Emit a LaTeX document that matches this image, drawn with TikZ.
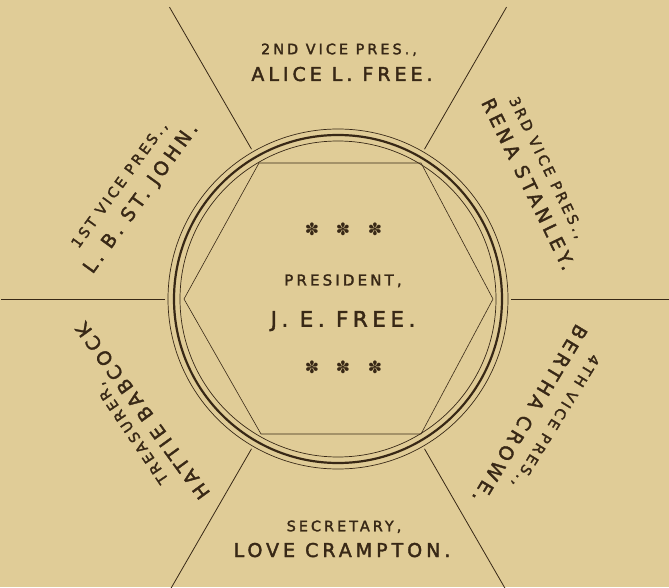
\documentclass[tikz,border=0pt]{standalone}
\usepackage{fontspec}
\setmainfont{DejaVu Sans}
\newfontfamily\capfont[LetterSpace=21, FakeBold=2]{DejaVu Sans}
\newfontfamily\ornfont{DejaVu Sans}
\definecolor{paper}{RGB}{224,204,151}
\definecolor{ink}{RGB}{56,40,22}

\begin{document}
\begin{tikzpicture}[x=1pt, y=1pt,
    officer/.style={ink, inner sep=0pt, text depth=0pt, text height=14pt, font=\capfont\fontsize{19}{19}\selectfont},
    office/.style={ink, inner sep=0pt, text depth=0pt, text height=10.5pt, font=\capfont\fontsize{14.4}{14}\selectfont},
    ornament/.style={ink, inner sep=0pt, font=\ornfont\fontsize{17}{17}\selectfont},
    divider/.style={ink, line width=0.8pt}]

    % Paper
    \fill[paper] (0,0) rectangle (669,587);
    \clip (0,0) rectangle (669,587);
    \coordinate (hub) at (338,288);

    % Six dividing rays
    \foreach \a in {0,60,...,300}
        \draw[divider, shift={(hub)}] (\a:173) -- (\a:337);

    % Triple ring and hexagon
    \draw[ink, line width=0.7pt] (hub) circle (170);
    \draw[ink, line width=2.2pt] (hub) circle (164);
    \draw[ink, line width=0.7pt] (hub) circle (158);
    \draw[ink, line width=0.6pt] (184,288) -- (259,424) -- (421,424) -- (493,288) -- (421,153) -- (261,153) -- cycle;

    % President in the centre
    \node[office, text height=11pt, font=\capfont\fontsize{15}{15}\selectfont] (pres) at (343,307) {PRESIDENT,};
    \node[officer, text height=15.5pt, font=\capfont\fontsize{21.5}{21}\selectfont] (jefree) at (343,268) {J. E. FREE.};
    \foreach \x [count=\i] in {312,343,375} {
        \node[ornament] (startop\i) at (\x,358) {✽};
        \node[ornament] (starbot\i) at (\x,220) {✽};
    }

    % Top: 2nd vice president
    \node[office] (vp2) at (339,538) {2ND VICE PRES.,};
    \node[officer] (free) at (342,513) {ALICE L. FREE.};

    % Upper left: 1st vice president
    \node[office, rotate=54] (vp1) at (119,402.5) {1ST VICE PRES.,};
    \node[officer, rotate=54] (stjohn) at (140,389.5) {L. B. ST. JOHN.};

    % Upper right: 3rd vice president
    \node[office, rotate=-64] (vp3) at (547.5,419.5) {3RD VICE PRES.,};
    \node[officer, rotate=-64] (stanley) at (528.5,403) {RENA STANLEY.};

    % Lower left: treasurer
    \node[office, rotate=124] (treas) at (131.5,153.5) {TREASURER,};
    \node[officer, rotate=126] (babcock) at (142.5,176) {HATTIE BABCOCK};

    % Lower right: 4th vice president
    \node[office, rotate=-121.5] (vp4) at (556,165.5) {4TH VICE PRES.,};
    \node[officer, rotate=-121] (crowe) at (530,173) {BERTHA CROWE.};

    % Bottom: secretary
    \node[office] (sec) at (344,61) {SECRETARY,};
    \node[officer] (crampton) at (342,37) {LOVE CRAMPTON.};
\end{tikzpicture}
\end{document}
